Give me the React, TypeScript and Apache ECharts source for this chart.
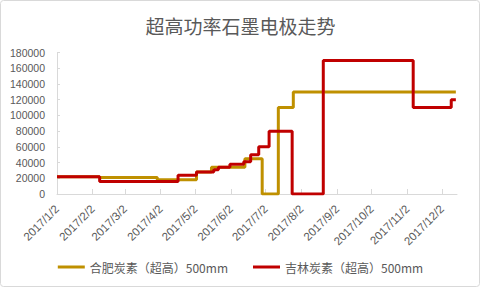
import React, { useEffect, useRef } from "react";
import * as echarts from "echarts";

const titleText = "超高功率石墨电极走势";
const seriesNames = ["合肥炭素（超高）500mm", "吉林炭素（超高）500mm"];

// Step change dates and values (value holds from the date until the next date)
const hefeiDates = [
  "2017-01-02", "2017-02-08", "2017-03-30", "2017-05-03", "2017-05-16",
  "2017-06-14", "2017-06-29", "2017-07-13", "2017-07-26", "2017-12-14",
];
const hefeiValues = [22000, 21000, 18000, 28000, 34000, 45000, 0, 110000, 130000, 130000];

const jilinDates = [
  "2017-01-02", "2017-02-08", "2017-04-17", "2017-05-03", "2017-05-18",
  "2017-05-22", "2017-06-01", "2017-06-13", "2017-06-19", "2017-06-26",
  "2017-07-05", "2017-07-25", "2017-08-21", "2017-11-07", "2017-12-10",
  "2017-12-14",
];
const jilinValues = [
  22000, 16000, 24000, 28000, 31000, 34000, 38000, 41000, 50000, 60000,
  80000, 0, 170000, 110000, 120000, 120000,
];

const tickDates = [
  "2017-01-02", "2017-02-02", "2017-03-02", "2017-04-02", "2017-05-02", "2017-06-02",
  "2017-07-02", "2017-08-02", "2017-09-02", "2017-10-02", "2017-11-02", "2017-12-02",
];
const axisMinDate = "2017-01-02";
const axisMaxDate = "2017-12-15";
const yMin = 0;
const yMax = 180000;
const yInterval = 20000;

const colors = ["#BF9000", "#C00000"];

function toTime(s: string): number {
  const [y, m, d] = s.split("-").map(Number);
  return Date.UTC(y, m - 1, d);
}

export default function App() {
  const ref = useRef<HTMLDivElement>(null);
  useEffect(() => {
    document.body.style.margin = "0";
    if (!ref.current) return;
    const chart = echarts.init(ref.current, undefined, { renderer: "svg" });
    const tickTimes = tickDates.map(toTime);
    chart.setOption({
      animation: false,
      backgroundColor: "#ffffff",
      textStyle: { fontFamily: "'Liberation Sans', 'Noto Sans CJK SC', sans-serif" },
      title: {
        text: titleText,
        left: "center",
        top: 11,
        textStyle: {
          fontSize: 19,
          fontWeight: "normal",
          color: "#595959",
          fontFamily: "'Noto Sans CJK SC', sans-serif",
        },
      },
      graphic: [
        {
          type: "rect",
          shape: { x: 0.5, y: 0.5, width: 479, height: 286, r: 3 },
          style: { fill: "none", stroke: "#D9D9D9", lineWidth: 1 },
          silent: true,
        },
      ],
      legend: {
        bottom: 10,
        left: "center",
        icon: "rect",
        itemWidth: 27,
        itemHeight: 3,
        itemGap: 25,
        textStyle: {
          fontSize: 12,
          color: "#595959",
          fontFamily: "'Noto Sans CJK SC', sans-serif",
        },
        data: seriesNames,
      },
      grid: { left: 57, right: 24, top: 52.6, bottom: 94, containLabel: false },
      xAxis: {
        type: "value",
        min: toTime(axisMinDate),
        max: toTime(axisMaxDate),
        axisLine: { lineStyle: { color: "#D9D9D9" } },
        axisTick: { show: true, inside: true, length: 5, customValues: tickTimes, lineStyle: { color: "#D9D9D9" } },
        splitLine: { show: false },
        axisLabel: {
          customValues: tickTimes,
          rotate: 45,
          fontSize: 11.5,
          color: "#595959",
          margin: 13,
          hideOverlap: false,
          showMinLabel: true,
          showMaxLabel: true,
          formatter: (v: number) => {
            const d = new Date(v);
            return `${d.getUTCFullYear()}/${d.getUTCMonth() + 1}/${d.getUTCDate()}`;
          },
        },
      },
      yAxis: {
        type: "value",
        min: yMin,
        max: yMax,
        interval: yInterval,
        axisLine: { show: true, lineStyle: { color: "#D9D9D9" } },
        axisTick: { show: true, inside: true, length: 3, lineStyle: { color: "#D9D9D9" } },
        splitLine: { show: false },
        axisLabel: {
          fontSize: 10.5,
          color: "#595959",
          margin: 12,
          formatter: (v: number) => String(v),
        },
      },
      series: [
        {
          name: seriesNames[0],
          type: "line",
          step: "end",
          showSymbol: false,
          symbol: "none",
          lineStyle: { width: 3, color: colors[0] },
          itemStyle: { color: colors[0] },
          data: hefeiDates.map((d, i) => [toTime(d), hefeiValues[i]]),
        },
        {
          name: seriesNames[1],
          type: "line",
          step: "end",
          showSymbol: false,
          symbol: "none",
          lineStyle: { width: 3, color: colors[1] },
          itemStyle: { color: colors[1] },
          data: jilinDates.map((d, i) => [toTime(d), jilinValues[i]]),
        },
      ],
    });
    return () => chart.dispose();
  }, []);
  return <div ref={ref} style={{ width: 481, height: 288 }} />;
}
